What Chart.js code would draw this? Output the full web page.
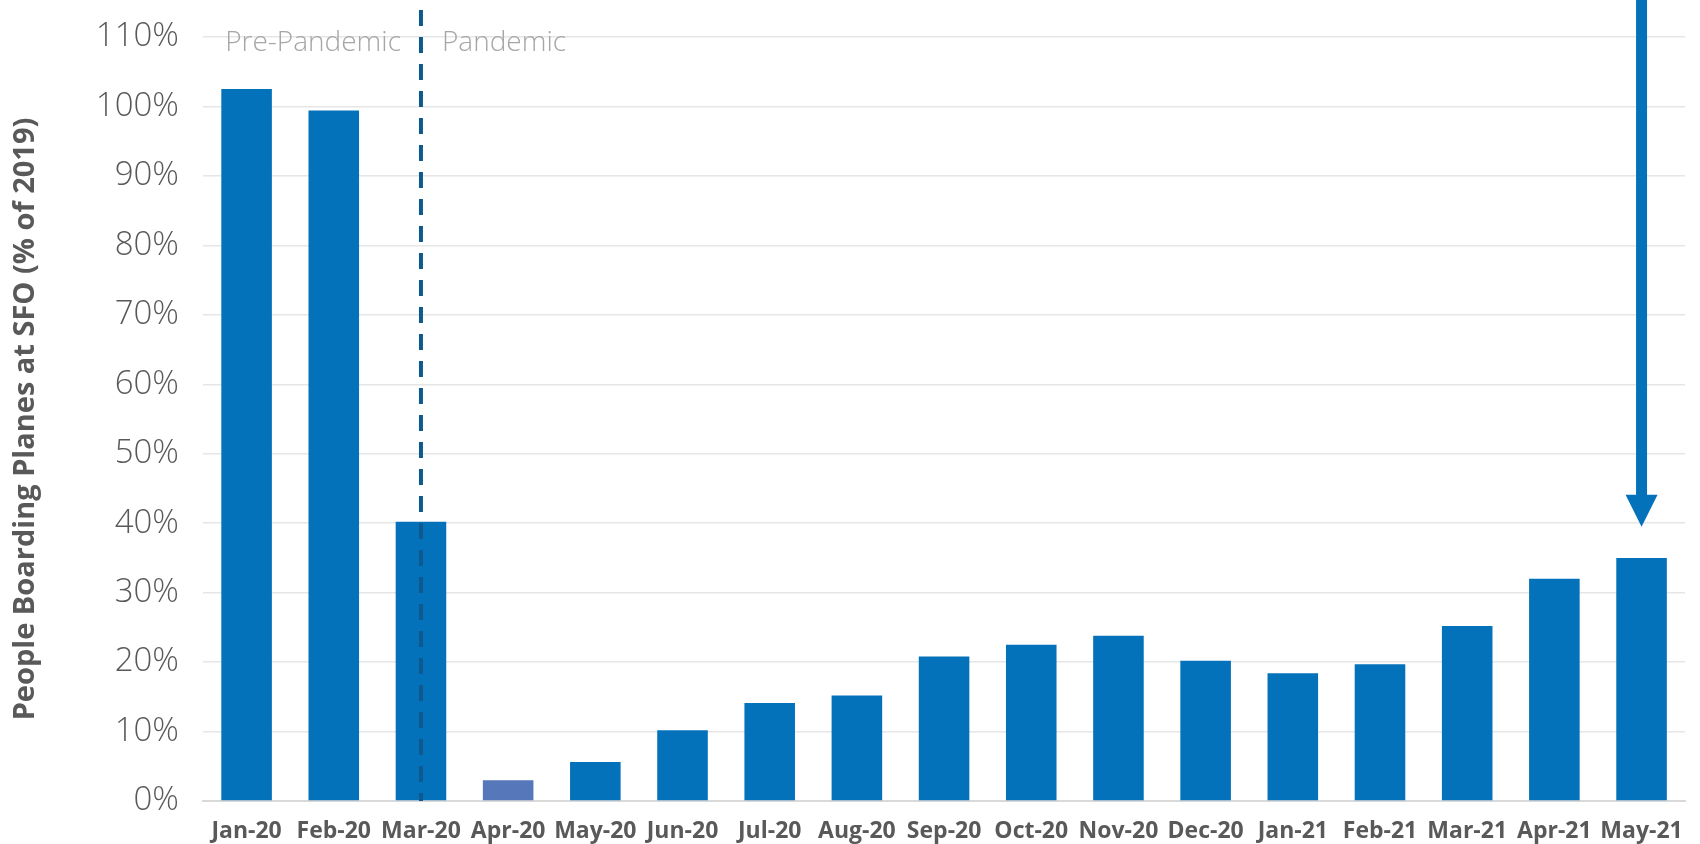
<!DOCTYPE html>
<html>
<head>
<meta charset="utf-8">
<script src="https://cdn.jsdelivr.net/npm/chart.js@4"></script>
<style>
  html, body { margin: 0; padding: 0; background: #fff; }
  #wrap { width: 1700px; height: 844px; }
</style>
</head>
<body>
<div id="wrap"><canvas id="sfoChart" width="1700" height="844"></canvas></div>
<script>
'use strict'

// monthly boardings at SFO, as % of same month in 2019
var months = ['Jan-20', 'Feb-20', 'Mar-20', 'Apr-20', 'May-20', 'Jun-20', 'Jul-20', 'Aug-20', 'Sep-20',
  'Oct-20', 'Nov-20', 'Dec-20', 'Jan-21', 'Feb-21', 'Mar-21', 'Apr-21', 'May-21'];
var boardingPct = [102.5, 99.4, 40.2, 3.0, 5.6, 10.2, 14.1, 15.2, 20.8, 22.5, 23.8, 20.2, 18.4, 19.7, 25.2, 32.0, 35.0];
var yTicks = [0, 10, 20, 30, 40, 50, 60, 70, 80, 90, 100, 110];

// annotations
var pandemicStart = 'Mar-20';
var lowMonth = 'Apr-20';
var arrowMonth = 'May-21';
var arrowTip = 39.5;

var barBlue = '#0472BA';
var lowBlue = '#5677BA';

var barColors = months.map(function (m) { return m === lowMonth ? lowBlue : barBlue; });

var annotations = {
  id: 'annotations',
  afterDatasetsDraw: function (chart) {
    var ctx = chart.ctx;
    var x = chart.scales.x;
    var y = chart.scales.y;
    var area = chart.chartArea;

    // pandemic divider
    var lx = x.getPixelForValue(months.indexOf(pandemicStart));
    ctx.save();
    ctx.strokeStyle = '#0E5A8E';
    ctx.lineWidth = 4;
    ctx.setLineDash([16, 11]);
    ctx.beginPath();
    ctx.moveTo(lx, 10);
    ctx.lineTo(lx, area.bottom);
    ctx.stroke();
    ctx.restore();

    // period labels
    var ty = y.getPixelForValue(yTicks[yTicks.length - 1]) + 6;
    ctx.save();
    ctx.font = '300 28px "Open Sans"';
    ctx.fillStyle = '#A6A6A6';
    ctx.textBaseline = 'middle';
    ctx.textAlign = 'right';
    ctx.fillText('Pre-Pandemic', lx - 20, ty);
    ctx.textAlign = 'left';
    ctx.fillText('Pandemic', lx + 21, ty);
    ctx.restore();

    // arrow to latest month
    var ax = x.getPixelForValue(months.indexOf(arrowMonth));
    var tip = y.getPixelForValue(arrowTip);
    var head = 32;
    ctx.save();
    ctx.strokeStyle = barBlue;
    ctx.fillStyle = barBlue;
    ctx.lineWidth = 11;
    ctx.beginPath();
    ctx.moveTo(ax, 0);
    ctx.lineTo(ax, tip - head + 2);
    ctx.stroke();
    ctx.beginPath();
    ctx.moveTo(ax - head / 2, tip - head);
    ctx.lineTo(ax + head / 2, tip - head);
    ctx.lineTo(ax, tip);
    ctx.closePath();
    ctx.fill();
    ctx.restore();
  }
};

function renderChart() {
  var ctx = document.getElementById('sfoChart').getContext('2d');
  var chart = new Chart(ctx, {
    type: 'bar',
    data: {
      labels: months,
      datasets: [{
        label: 'People Boarding Planes at SFO',
        data: boardingPct,
        backgroundColor: barColors,
        borderWidth: 0,
        barPercentage: 0.58,
        categoryPercentage: 1.0
      }]
    },
    options: {
      responsive: false,
      animation: false,
      layout: { padding: { top: 37, right: 9, left: 0, bottom: 0 } },
      plugins: {
        legend: { display: false },
        tooltip: { enabled: false }
      },
      scales: {
        x: {
          grid: { display: false, drawTicks: false },
          border: { display: true, color: '#D9D9D9', width: 2 },
          ticks: {
            color: '#595959',
            padding: 17,
            maxRotation: 0,
            autoSkip: false,
            font: { family: 'Open Sans', size: 23, weight: 'bold' }
          },
          afterFit: function (scale) { scale.height = 43; }
        },
        y: {
          min: 0,
          max: 110,
          afterBuildTicks: function (scale) {
            scale.ticks = yTicks.map(function (v) { return { value: v }; });
          },
          grid: { color: '#E6E6E6', lineWidth: 1.5, drawTicks: false },
          border: { display: false },
          ticks: {
            color: '#595959',
            padding: 24,
            font: { family: 'Open Sans', size: 33, weight: 300 },
            callback: function (v) { return v + '%'; }
          },
          title: {
            display: true,
            text: 'People Boarding Planes at SFO (% of 2019)',
            color: '#595959',
            padding: { top: 8, bottom: 0 },
            font: { family: 'Open Sans', size: 29, weight: 'bold' }
          },
          afterFit: function (scale) {
            scale.width = 203;
            scale.paddingTop = 0;
            scale.paddingBottom = 0;
          }
        }
      }
    },
    plugins: [annotations]
  });
}

renderChart();
</script>
</body>
</html>
